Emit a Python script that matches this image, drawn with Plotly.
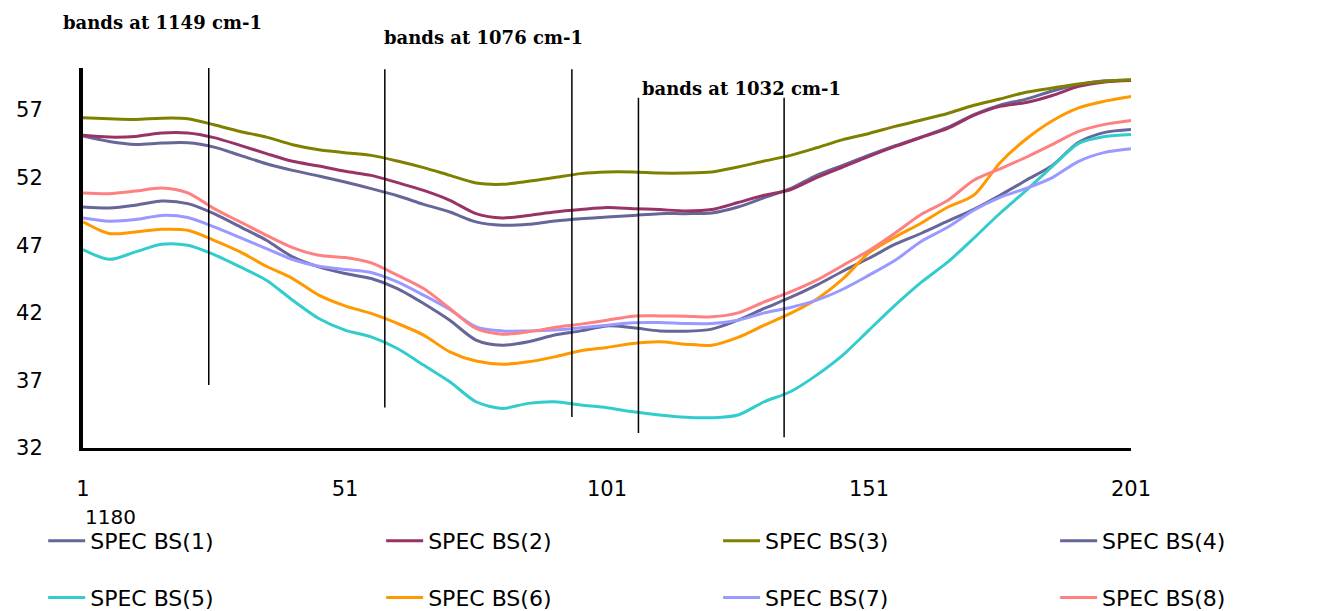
import plotly.graph_objects as go

# ---- data ----
x_index = [1, 6, 11, 16, 21, 26, 31, 36, 41, 46, 51, 56, 61, 66, 71, 76, 81, 86, 91, 96,
           101, 106, 111, 116, 121, 126, 131, 136, 141, 146, 151, 156, 161, 166, 171, 176,
           181, 186, 191, 196, 201]

bs1 = [55.07, 54.67, 54.45, 54.55, 54.57, 54.25, 53.64, 53.02, 52.53, 52.11, 51.67, 51.18,
       50.65, 50.02, 49.45, 48.72, 48.47, 48.54, 48.79, 48.96, 49.08, 49.2, 49.33, 49.33,
       49.38, 49.82, 50.51, 51.18, 52.16, 52.9, 53.65, 54.35, 55.0, 55.7, 56.65, 57.35,
       57.8, 58.4, 58.88, 59.15, 59.22]
bs2 = [55.12, 54.99, 55.04, 55.29, 55.29, 54.95, 54.38, 53.77, 53.2, 52.85, 52.46, 52.16,
       51.62, 51.05, 50.32, 49.33, 49.01, 49.2, 49.45, 49.63, 49.78, 49.7, 49.63, 49.53,
       49.63, 50.15, 50.69, 51.1, 51.99, 52.78, 53.57, 54.3, 54.97, 55.63, 56.59, 57.26,
       57.55, 58.07, 58.74, 59.07, 59.18]
bs3 = [56.42, 56.35, 56.3, 56.39, 56.35, 55.9, 55.41, 54.99, 54.43, 54.06, 53.84, 53.64,
       53.22, 52.73, 52.16, 51.6, 51.5, 51.72, 52.0, 52.29, 52.41, 52.41, 52.33, 52.33,
       52.41, 52.78, 53.22, 53.64, 54.2, 54.8, 55.26, 55.78, 56.25, 56.74, 57.34, 57.81,
       58.3, 58.62, 58.92, 59.12, 59.23]
bs4 = [49.83, 49.75, 49.95, 50.26, 50.07, 49.33, 48.35, 47.36, 46.13, 45.39, 44.9, 44.53,
       43.79, 42.69, 41.45, 39.98, 39.6, 39.85, 40.35, 40.66, 41.03, 40.89, 40.66, 40.64,
       40.79, 41.45, 42.32, 43.13, 44.04, 45.07, 46.03, 47.07, 47.88, 48.77, 49.65, 50.69,
       51.8, 52.9, 54.6, 55.34, 55.56]
bs5 = [46.67, 45.95, 46.5, 47.07, 46.99, 46.3, 45.39, 44.41, 42.93, 41.58, 40.72, 40.22,
       39.36, 38.13, 36.9, 35.42, 34.93, 35.3, 35.42, 35.18, 34.98, 34.68, 34.44, 34.27,
       34.24, 34.44, 35.42, 36.16, 37.39, 38.87, 40.72, 42.56, 44.26, 45.74, 47.51, 49.36,
       51.05, 52.83, 54.53, 55.04, 55.19]
bs6 = [48.72, 47.86, 47.98, 48.17, 48.1, 47.36, 46.5, 45.44, 44.53, 43.3, 42.51, 41.95,
       41.21, 40.35, 39.11, 38.43, 38.2, 38.37, 38.74, 39.19, 39.44, 39.73, 39.85, 39.68,
       39.6, 40.18, 41.08, 41.95, 43.0, 44.5, 46.43, 47.6, 48.64, 49.8, 50.7, 53.1,
       54.85, 56.2, 57.15, 57.65, 58.0]
bs7 = [49.01, 48.77, 48.89, 49.2, 49.04, 48.35, 47.56, 46.75, 45.94, 45.44, 45.2, 44.98,
       44.28, 43.3, 42.24, 40.96, 40.66, 40.66, 40.72, 40.89, 41.08, 41.26, 41.28, 41.21,
       41.21, 41.45, 41.99, 42.39, 42.93, 43.74, 44.78, 45.88, 47.29, 48.32, 49.58, 50.54,
       51.2, 52.0, 53.2, 53.86, 54.13]
bs8 = [50.86, 50.81, 51.0, 51.22, 50.86, 49.7, 48.72, 47.73, 46.82, 46.25, 46.08, 45.69,
       44.78, 43.79, 42.32, 40.84, 40.42, 40.59, 40.91, 41.16, 41.45, 41.75, 41.77, 41.75,
       41.7, 41.99, 42.8, 43.54, 44.41, 45.5, 46.6, 47.9, 49.28, 50.3, 51.8, 52.64,
       53.5, 54.45, 55.41, 55.93, 56.22]

series_names = ["SPEC BS(1)", "SPEC BS(2)", "SPEC BS(3)", "SPEC BS(4)",
                "SPEC BS(5)", "SPEC BS(6)", "SPEC BS(7)", "SPEC BS(8)"]
series_values = [bs1, bs2, bs3, bs4, bs5, bs6, bs7, bs8]
colors = ["#666699", "#993366", "#808000", "#666699",
          "#33CCCC", "#FF9900", "#9999FF", "#FF8080"]

# marker lines for bands
band_x = [25, 58.6, 94.3, 107, 134.8]
band_top = [60.1, 60.0, 60.0, 57.9, 57.9]
band_bottom = [36.65, 35.0, 34.3, 33.1, 32.8]

band_labels = ["bands at 1149 cm-1", "bands at 1076 cm-1", "bands at 1032 cm-1"]

x_ticks = [1, 51, 101, 151, 201]
y_ticks = [32, 37, 42, 47, 52, 57]

fig = go.Figure()

legend_ids = ["legend"] + ["legend%d" % k for k in range(2, 9)]

for i, (name, vals, col) in enumerate(zip(series_names, series_values, colors)):
    fig.add_trace(go.Scatter(
        x=x_index, y=vals, name=name, mode="lines",
        line=dict(color=col, width=3, shape="spline", smoothing=0.8),
        legend=legend_ids[i], showlegend=True,
        hoverinfo="skip",
    ))

for bx, bt, bb in zip(band_x, band_top, band_bottom):
    fig.add_shape(type="line", xref="x", yref="y", x0=bx, x1=bx, y0=bb, y1=bt,
                  line=dict(color="black", width=1.5))

label_font = dict(family="DejaVu Serif", size=18, color="black", weight="bold")
ann_pos = [(0.0754, 1.121), (0.3817, 1.079), (0.6288, 0.947)]
for txt, (px, py) in zip(band_labels, ann_pos):
    fig.add_annotation(text=txt, xref="paper", yref="paper", x=px, y=py,
                       showarrow=False, font=label_font, xanchor="center", yanchor="middle")

fig.add_annotation(text="1180", xref="x", yref="paper", x=1, y=-0.182, xanchor="left",
                   yanchor="middle", showarrow=False,
                   font=dict(family="DejaVu Sans", size=20, color="black"))

legend_font = dict(family="DejaVu Sans", size=22, color="black")
col_x = [-0.038, 0.2845, 0.606, 0.9276]
row_y = [-0.2447, -0.394]
legend_layout = {}
for i, lid in enumerate(legend_ids):
    legend_layout[lid] = dict(
        orientation="h", x=col_x[i % 4], y=row_y[i // 4],
        xanchor="left", yanchor="middle", itemwidth=37, visible=True,
        font=legend_font, bgcolor="rgba(0,0,0,0)", borderwidth=0,
    )

fig.update_layout(
    width=1318, height=611,
    showlegend=True,
    margin=dict(l=83, r=187, t=68, b=163, autoexpand=False),
    paper_bgcolor="white", plot_bgcolor="white",
    xaxis=dict(range=[1, 201], tickvals=x_ticks, showgrid=False, zeroline=False,
               showline=True, linecolor="black", linewidth=3, ticks="",
               ticklabelstandoff=20,
               tickfont=dict(family="DejaVu Sans", size=21, color="black")),
    yaxis=dict(range=[32, 60.1], tickvals=y_ticks, showgrid=False, zeroline=False,
               showline=True, linecolor="black", linewidth=4, ticks="",
               ticklabelstandoff=32,
               tickfont=dict(family="DejaVu Sans", size=21, color="black")),
    **legend_layout,
)

fig.write_html("out.html", config={"displayModeBar": False},
               post_script="document.body.style.margin='0';document.body.style.overflow='hidden';")
